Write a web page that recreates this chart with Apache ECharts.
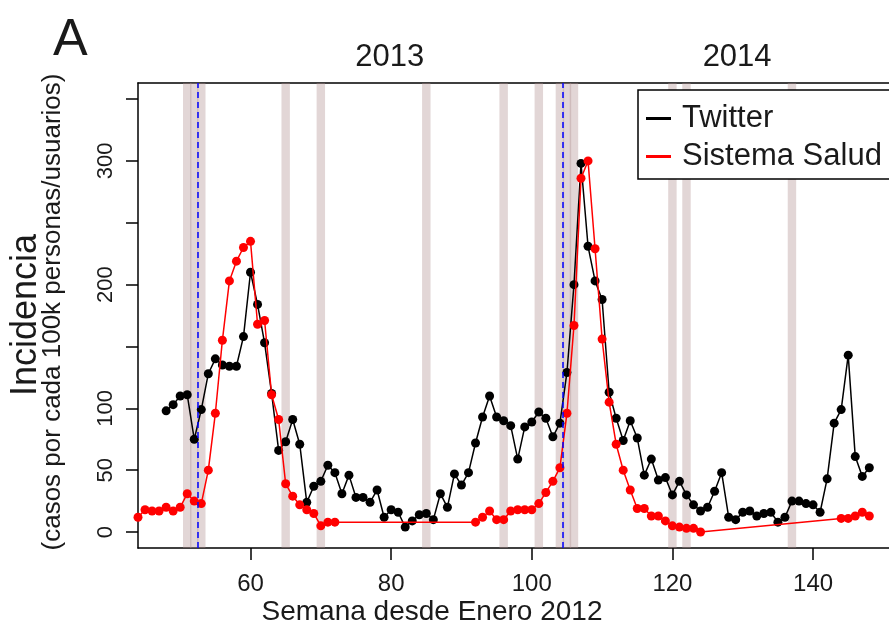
<!DOCTYPE html>
<html><head><meta charset="utf-8">
<script src="https://cdn.jsdelivr.net/npm/echarts@6/dist/echarts.min.js"></script>
<style>html,body{margin:0;padding:0;background:#fff}#c{width:889px;height:632px}</style>
</head><body><div id="c"></div>
<script>
// ---- data ----
const twitterWeeks = [48,49,50,51,52,53,54,55,56,57,58,59,60,61,62,63,64,65,66,67,68,69,70,71,72,73,74,75,76,77,78,79,80,81,82,83,84,85,86,87,88,89,90,91,92,93,94,95,96,97,98,99,100,101,102,103,104,105,106,107,108,109,110,111,112,113,114,115,116,117,118,119,120,121,122,123,124,125,126,127,128,129,130,131,132,133,134,135,136,137,138,139,140,141,142,143,144,145,146,147,148];
const twitterValues = [98,103,110,111,75,99,128,140,135,134,134,158,210,184,153,112,66,73,91,71,24,37,41,54,48,31,46,28,28,24,34,12,18,16,4,9,14,15,10,31,20,47,38,48,72,93,110,93,90,86,59,85,89,97,92,77,88,129,200,298,231,203,188,113,92,74,90,76,46,59,42,44,30,41,30,22,17,20,33,48,12,10,16,17,13,15,16,8,12,25,25,23,22,16,43,88,99,143,61,45,52];
const saludWeeks = [44,45,46,47,48,49,50,51,52,53,54,55,56,57,58,59,60,61,62,63,64,65,66,67,68,69,70,71,72,92,93,94,95,96,97,98,99,100,101,102,103,104,105,106,107,108,109,110,111,112,113,114,115,116,117,118,119,120,121,122,123,124,144,145,146,147,148];
const saludValues = [12,18,17,17,20,17,20,31,25,23,50,96,155,203,219,230,235,168,171,111,91,39,29,22,18,15,5,8,8,8,12,17,10,10,17,18,18,18,23,32,41,52,96,167,286,300,229,156,105,71,50,34,19,19,13,13,9,5,4,3,3,0,11,11,13,16,13];
const holidayWeeks = [51,52,53,65,70,85,96,101,104,105,106,120,122,137];
const yearStartWeeks = [52.5,104.45];
const yearLabels = ['2013','2014'];
const yearLabelWeeks = [79.8,129.2];
const xTicks = [60,80,100,120,140];
const yTicks = [0,50,100,150,200,250,300,350];
const yTickLabels = [0,50,100,200,300];
const seriesNames = ['Twitter','Sistema Salud'];

const FONT = "'Liberation Sans', Arial, Helvetica, sans-serif";
const TXT = '#1a1a1a';
const XMIN = 44, XMAX = 150.8, YMIN = -12.9, YMAX = 363;
const chart = echarts.init(document.getElementById('c'), null, {renderer:'canvas'});

const bandHalf = 0.6;
const option = {
  animation:false,
  backgroundColor:'#fff',
  textStyle:{fontFamily:FONT},
  grid:{left:138, top:83, height:465, right:0, show:false},
  xAxis:[{type:'value', min:XMIN, max:XMAX,
    axisLine:{show:true, onZero:false, lineStyle:{color:'#000', width:1.5}},
    axisTick:{show:true, customValues:xTicks, length:12, inside:false, lineStyle:{color:'#000', width:1.5}},
    axisLabel:{show:true, customValues:xTicks, fontSize:24, color:TXT, margin:24, fontFamily:FONT},
    splitLine:{show:false}},
   {type:'value', position:'top', min:XMIN, max:XMAX,
    axisLine:{show:true, onZero:false, lineStyle:{color:'#000', width:1.5}},
    axisTick:{show:false}, axisLabel:{show:false}, splitLine:{show:false}}],
  yAxis:{type:'value', min:YMIN, max:YMAX,
    axisLine:{show:true, onZero:false, lineStyle:{color:'#000', width:1.5}},
    axisTick:{show:true, customValues:yTicks, length:12, inside:false, lineStyle:{color:'#000', width:1.5}},
    axisLabel:{show:true, customValues:yTickLabels, rotate:90, fontSize:22, color:TXT, margin:21, fontFamily:FONT},
    splitLine:{show:false}},
  legend:{orient:'vertical', left:638, top:90, backgroundColor:'#fff', borderColor:'#000', borderWidth:1.5,
    padding:[13,10,7,8], itemGap:7, itemWidth:25, itemHeight:3, icon:'rect',
    textStyle:{fontSize:31, color:TXT, fontFamily:FONT, lineHeight:31, padding:[0,0,0,6]},
    data:seriesNames},
  series:[
    {name:'bands', type:'line', data:[], z:1, silent:true,
      markArea:{silent:true, itemStyle:{color:'rgba(175,140,140,0.36)'},
        data:holidayWeeks.map(w=>[{xAxis:w-bandHalf, yAxis:YMIN},{xAxis:w+bandHalf, yAxis:YMAX}])},
      markLine:{silent:true, symbol:['none','none'], label:{show:false},
        lineStyle:{color:'#0000ff', width:1.5, type:[6,4]},
        data:yearStartWeeks.map(w=>({xAxis:w}))}
    },
    {name:seriesNames[0], type:'line', z:3, symbol:'circle', symbolSize:9, showSymbol:true,
      itemStyle:{color:'#000'}, lineStyle:{color:'#000', width:1.5},
      data:twitterWeeks.map((w,i)=>[w,twitterValues[i]])},
    {name:seriesNames[1], type:'line', z:4, symbol:'circle', symbolSize:9, showSymbol:true,
      itemStyle:{color:'#ff0000'}, lineStyle:{color:'#ff0000', width:1.5},
      data:saludWeeks.map((w,i)=>[w,saludValues[i]])}
  ]
};
chart.setOption(option);

const graphics = [
  {type:'text', left:53, top:15, style:{text:'A', font:'52px '+FONT, fill:TXT}},
  {type:'text', x:432, y:612, style:{text:'Semana desde Enero 2012', font:'28px '+FONT, fill:TXT, align:'center', verticalAlign:'middle'}},
  {type:'text', x:26, y:315, rotation:Math.PI/2, style:{text:'Incidencia', font:'36px '+FONT, fill:TXT, align:'center', verticalAlign:'middle'}},
  {type:'text', x:53, y:312, rotation:Math.PI/2, style:{text:'(casos por cada 100k personas/usuarios)', font:'26px '+FONT, fill:TXT, align:'center', verticalAlign:'middle'}}
];
yearLabels.forEach((t,i)=>{
  const px = chart.convertToPixel({xAxisIndex:0}, yearLabelWeeks[i]);
  graphics.push({type:'text', x:px, y:57, style:{text:t, font:'31px '+FONT, fill:TXT, align:'center', verticalAlign:'middle'}});
});
chart.setOption({graphic:graphics});
</script>
</body></html>
